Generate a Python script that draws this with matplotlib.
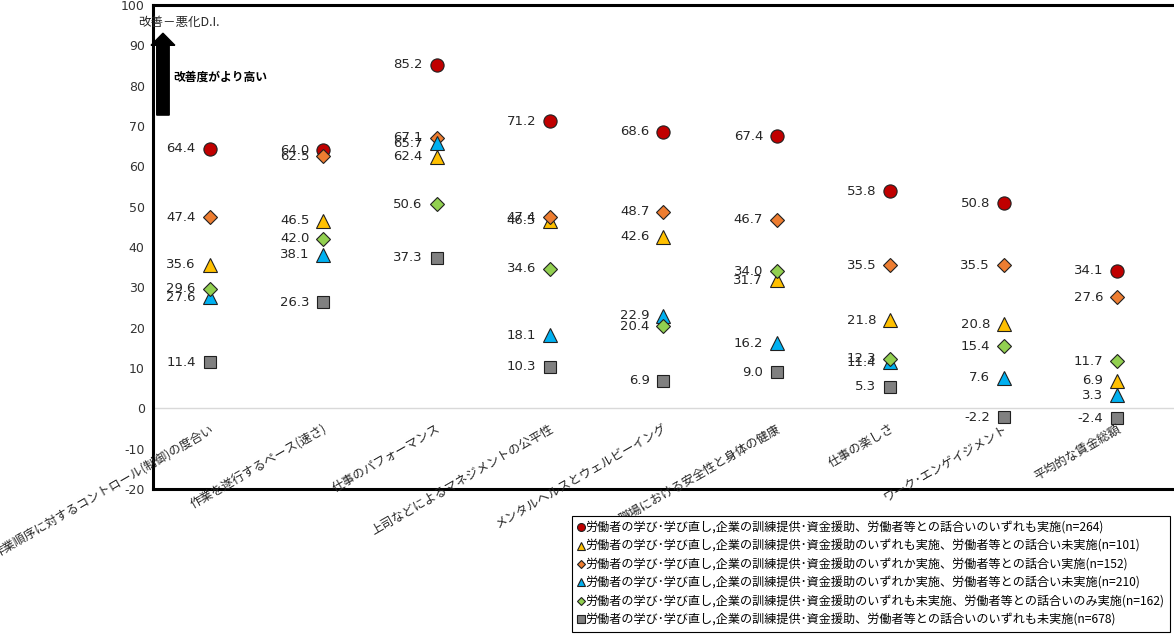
import numpy as np
import matplotlib.pyplot as plt
from matplotlib.patches import FancyArrow

plt.rcParams['font.family'] = ['Noto Sans CJK JP', 'DejaVu Sans']
plt.rcParams['axes.unicode_minus'] = False

categories = [
    '作業順序に対するコントロール(制御)の度合い',
    '作業を遂行するペース(速さ)',
    '仕事のパフォーマンス',
    '上司などによるマネジメントの公平性',
    'メンタルヘルスとウェルビーイング',
    '職場における安全性と身体の健康',
    '仕事の楽しさ',
    'ワーク･エンゲイジメント',
    '平均的な賃金総額',
]

all_done = [64.4, 64.0, 85.2, 71.2, 68.6, 67.4, 53.8, 50.8, 34.1]
support_all_no_talk = [35.6, 46.5, 62.4, 46.5, 42.6, 31.7, 21.8, 20.8, 6.9]
support_some_talk = [47.4, 62.5, 67.1, 47.4, 48.7, 46.7, 35.5, 35.5, 27.6]
support_some_no_talk = [27.6, 38.1, 65.7, 18.1, 22.9, 16.2, 11.4, 7.6, 3.3]
talk_only = [29.6, 42.0, 50.6, 34.6, 20.4, 34.0, 12.3, 15.4, 11.7]
none_done = [11.4, 26.3, 37.3, 10.3, 6.9, 9.0, 5.3, -2.2, -2.4]

legend_labels = [
    '労働者の学び･学び直し,企業の訓練提供･資金援助、労働者等との話合いのいずれも実施(n=264)',
    '労働者の学び･学び直し,企業の訓練提供･資金援助のいずれも実施、労働者等との話合い未実施(n=101)',
    '労働者の学び･学び直し,企業の訓練提供･資金援助のいずれか実施、労働者等との話合い実施(n=152)',
    '労働者の学び･学び直し,企業の訓練提供･資金援助のいずれか実施、労働者等との話合い未実施(n=210)',
    '労働者の学び･学び直し,企業の訓練提供･資金援助のいずれも未実施、労働者等との話合いのみ実施(n=162)',
    '労働者の学び･学び直し,企業の訓練提供･資金援助、労働者等との話合いのいずれも未実施(n=678)',
]

series = [all_done, support_all_no_talk, support_some_talk,
          support_some_no_talk, talk_only, none_done]
styles = [
    dict(marker='o', color='#C00000', ms=9.5),
    dict(marker='^', color='#FFC000', ms=9.5),
    dict(marker='D', color='#ED7D31', ms=7),
    dict(marker='^', color='#00B0F0', ms=9.5),
    dict(marker='D', color='#92D050', ms=7),
    dict(marker='s', color='#808080', ms=8.5),
]

fig = plt.figure(figsize=(11.74, 6.38), dpi=100)
ax = fig.add_axes([0.1303, 0.2335, 0.8697, 0.7587])

x = np.arange(len(categories))
handles = []
for vals, st in zip(series, styles):
    h, = ax.plot(x, vals, linestyle='none', marker=st['marker'],
                 markersize=st['ms'], markerfacecolor=st['color'],
                 markeredgecolor='#202020', markeredgewidth=0.8,
                 clip_on=False)
    handles.append(h)
    for xi, v in zip(x, vals):
        ax.annotate('{:.1f}'.format(v), (xi, v), xytext=(-10, 0),
                    textcoords='offset points', ha='right', va='center',
                    fontsize=9.5, family='DejaVu Sans', color='#262626')

ax.set_xlim(-0.5, len(categories) - 0.5)
ax.set_ylim(-20, 100)
ax.set_yticks(np.arange(-20, 101, 10))
ax.tick_params(axis='y', length=0, pad=6, labelsize=9, labelcolor='#333333')
for lab in ax.get_yticklabels():
    lab.set_family('DejaVu Sans')
ax.set_xticks([])
ax.axhline(0, color='#d9d9d9', linewidth=1, zorder=0)

for side in ['left', 'bottom', 'top']:
    ax.spines[side].set_linewidth(2.2)
    ax.spines[side].set_color('black')
ax.spines['right'].set_visible(False)

# category labels sit just under the zero line
for xi, name in zip(x, categories):
    ax.annotate(name, (xi, 0), xytext=(2, -14), textcoords='offset points',
                rotation=30, rotation_mode='anchor', ha='right', va='center',
                fontsize=8.8, color='#262626', annotation_clip=False)

ax.text(-0.632, 95.8, '改善－悪化D.I.', fontsize=9, ha='left', va='center',
        color='#262626', clip_on=False)
ax.add_patch(FancyArrow(-0.412, 72.7, 0, 20.3, width=0.11, head_width=0.21,
                        head_length=3.0, length_includes_head=True,
                        color='black', clip_on=False))
ax.text(-0.324, 82.1, '改善度がより高い', fontsize=8.5, fontweight='bold',
        ha='left', va='center', color='black')

leg = fig.legend(handles, legend_labels, loc='lower right',
                 bbox_to_anchor=(0.9966, 0.0094), fontsize=8.7,
                 markerscale=0.6, handlelength=0.6, handletextpad=0.1,
                 labelspacing=0.45, borderpad=0.45, borderaxespad=0,
                 fancybox=False, edgecolor='black', framealpha=1)
leg.get_frame().set_linewidth(0.8)

plt.savefig('out.png', dpi=100)
